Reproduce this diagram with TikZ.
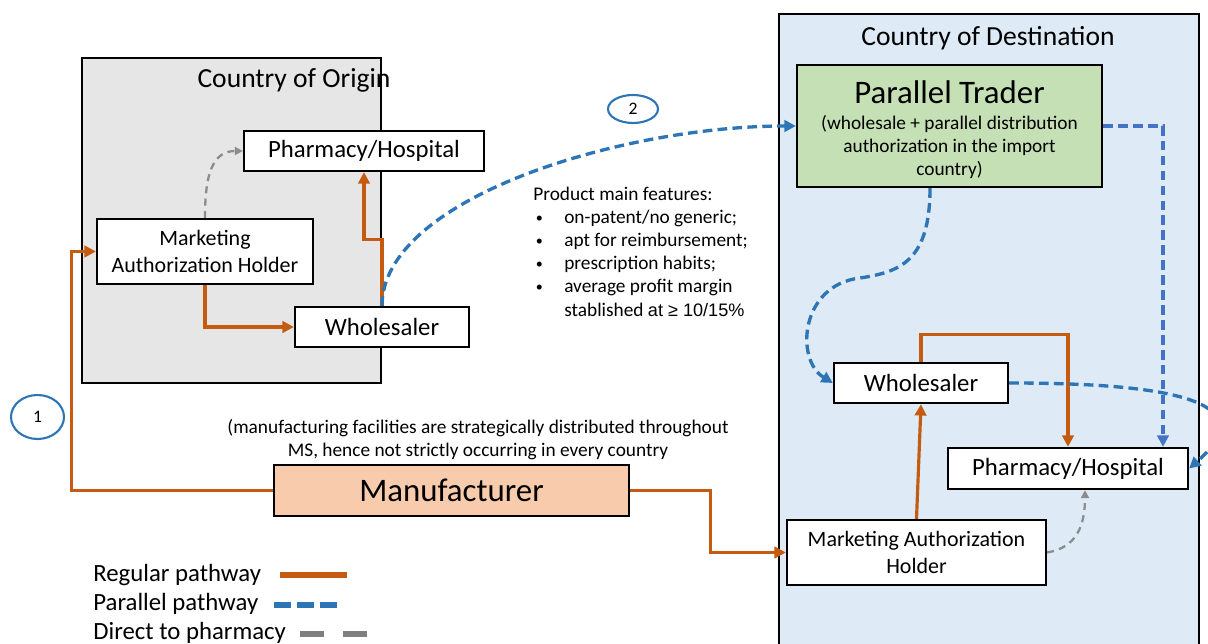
\documentclass[tikz,border=0pt]{standalone}
\usepackage{fontspec}
\setmainfont{Carlito}
\newfontfamily\arialf{Liberation Sans}
\usetikzlibrary{arrows.meta,shapes.geometric}
\definecolor{orng}{HTML}{C55A11}
\definecolor{blu}{HTML}{2E75B6}
\definecolor{blutwo}{HTML}{4472C4}
\definecolor{gry}{HTML}{8C8C8C}
\definecolor{gryleg}{HTML}{7F7F7F}
\definecolor{origfill}{HTML}{E7E6E6}
\definecolor{destfill}{HTML}{DEEBF7}
\definecolor{ptfill}{HTML}{C5E0B4}
\definecolor{manfill}{HTML}{F8CBAD}
\newcommand\bul{\hspace*{1.5pt}\makebox[16.1pt][l]{\raisebox{0.6pt}{\fontsize{8}{8}\selectfont\textbullet}}}
\tikzset{
  boxw/.style={draw=black, line width=1.3pt, fill=white, inner sep=0pt, align=center},
  regpath/.style={draw=orng, line width=1.8pt, -{Triangle[length=6.5pt,width=6.5pt]}},
  parpath/.style={draw=blu, line width=1.9pt, dash pattern=on 5.5pt off 3pt, -{Triangle[length=6.5pt,width=6.5pt]}},
  dirpath/.style={draw=gry, line width=1.3pt, dash pattern=on 4pt off 3pt, -{Triangle[length=4.5pt,width=4.5pt]}},
  ftitle/.style={font=\fontsize{15.7}{19}\selectfont, inner sep=0pt},
  flab/.style={font=\fontsize{14.1}{17}\selectfont},
  fmah/.style={font=\fontsize{12.5}{15.3}\selectfont},
  fbig/.style={font=\fontsize{18.7}{22}\selectfont},
  fsmall/.style={font=\fontsize{11}{13.2}\selectfont, inner sep=0pt},
  numcirc/.style={ellipse, draw=blu, line width=1.2pt, fill=white, inner sep=0pt, font=\fontsize{10}{12}\selectfont},
}
\begin{document}
\begin{tikzpicture}[x=0.02cm, y=-0.02cm]
\useasboundingbox (0,0) rectangle (1208,644);
\clip (0,0) rectangle (1208,644);
% country boxes
\node[draw=black, line width=1.6pt, fill=origfill, minimum width=5.98cm, minimum height=6.5cm, inner sep=0pt] (orig) at (231.5,220.5) {};
\node[ftitle] (origt) at (294,80) {Country of Origin};
\node[draw=black, line width=1.6pt, fill=destfill, minimum width=8.4cm, minimum height=13.72cm, inner sep=0pt] (dest) at (989,357) {};
\node[ftitle] (destt) at (988,38) {Country of Destination};
% origin nodes
\node[boxw, flab, minimum width=4.8cm, minimum height=0.8cm] (oph) at (364,151) {Pharmacy/Hospital};
\node[boxw, fmah, minimum width=4.32cm, minimum height=1.3cm] (omah) at (205,251.5) {Marketing\\Authorization Holder};
\node[boxw, flab, minimum width=3.48cm, minimum height=0.8cm] (ows) at (382,327) {Wholesaler};
% destination nodes
\node[boxw, fill=ptfill, minimum width=6.1cm, minimum height=2.44cm] (pt) at (949.5,126) {};
\node[fbig, inner sep=0pt] (ptt) at (949.5,92) {Parallel Trader};
\node[fsmall, align=center] (pts) at (949.5,147) {(wholesale + parallel distribution\\authorization in the import\\country)};
\node[boxw, flab, minimum width=3.48cm, minimum height=0.8cm] (dws) at (921,383) {Wholesaler};
\node[boxw, flab, minimum width=4.8cm, minimum height=0.82cm] (dph) at (1068,468.5) {Pharmacy/Hospital};
\node[boxw, fmah, minimum width=5.18cm, minimum height=1.3cm] (dmah) at (916.5,552.5) {Marketing Authorization\\Holder};
% manufacturer
\node[boxw, fbig, fill=manfill, minimum width=7.1cm, minimum height=1.02cm] (man) at (451.5,490.5) {Manufacturer};
\node[fsmall, align=center] (mnote) at (478,440) {(manufacturing facilities are strategically distributed throughout\\MS, hence not strictly occurring in every country};
% product features
\node[fsmall, align=left, anchor=west] (feat) at (533,251.5) {Product main features:\\\bul on-patent/no generic;\\\bul apt for reimbursement;\\\bul prescription habits;\\\bul average profit margin\\\hspace*{17.6pt}stablished {\arialf\fontsize{10.3}{13.2}\selectfont at ≥ 10/15\%}};
% numbered circles
\node[numcirc, minimum width=1.06cm, minimum height=0.88cm] (c1) at (37.5,417) {1};
\node[numcirc, minimum width=1.0cm, minimum height=0.56cm] (c2) at (633,109) {2};
% regular pathway connectors
\draw[regpath] (man.west) -- ++(-201,0) |- (omah.west);
\draw[regpath] (omah.south) |- (ows.west);
\draw[regpath] (ows.north) -- ++(0,-66) -| (oph.south);
\draw[regpath] (man.east) -- ++(80,0) |- (dmah.west);
\draw[regpath] (dmah.north) -- (dws.south);
\draw[regpath] (dws.north) -- ++(0,-27) -| (dph.north);
% parallel pathway connectors
\draw[parpath] (ows.north) .. controls +(0,-107) and +(-175,0) .. (pt.west);
\draw[parpath, draw=blutwo] (pt.east) -| ([xshift=1.9cm]dph.north);
\draw[parpath] ([xshift=-0.39cm]pt.south) .. controls +(0,73) and +(40,-6) .. (860,278) .. controls (800,285) and (795,360) .. (dws.west);
\draw[parpath] (dws.east) .. controls +(150,0) and +(80,-70) .. (dph.east);
% direct to pharmacy connectors
\draw[dirpath] (omah.north) .. controls +(0,-45) and +(-30,0) .. (oph.west);
\draw[dirpath] (dmah.east) .. controls +(30,-5) and +(0,35) .. ([xshift=0.34cm]dph.south);
% legend
\node[flab, anchor=west, inner sep=0pt] (lg1) at (93,575) {Regular pathway};
\node[flab, anchor=west, inner sep=0pt] (lg2) at (93,604) {Parallel pathway};
\node[flab, anchor=west, inner sep=0pt] (lg3) at (93,633) {Direct to pharmacy};
\coordinate (l1a) at (280,575); \coordinate (l1b) at (347,575);
\coordinate (l2a) at (274,605); \coordinate (l2b) at (337,605);
\coordinate (l3a) at (300,634); \coordinate (l3b) at (368,634);
\draw[orng, line width=3pt] (l1a) -- (l1b);
\draw[blu, line width=3.2pt, dash pattern=on 9.6pt off 3.4pt] (l2a) -- (l2b);
\draw[gryleg, line width=3.2pt, dash pattern=on 13.6pt off 10.8pt] (l3a) -- (l3b);
\end{tikzpicture}
\end{document}
